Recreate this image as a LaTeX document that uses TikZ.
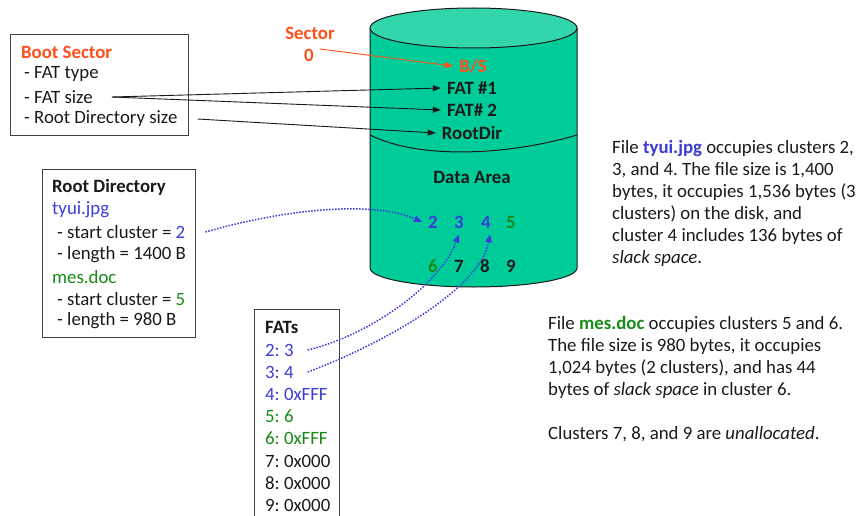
\documentclass[tikz,border=0pt]{standalone}
\usepackage{fontspec}
\setmainfont{Carlito}
\usepackage{xcolor}
\usetikzlibrary{arrows.meta,positioning}
\definecolor{ink}      {HTML}{1A1A1A}
\definecolor{boxgray}  {HTML}{404040}
\definecolor{sectred}  {HTML}{FF4F1A}
\definecolor{tyuiblue} {HTML}{3C3CD8}
\definecolor{mesgreen} {HTML}{178A17}
\definecolor{diskbody} {HTML}{00CC99}
\definecolor{disktop}  {HTML}{33D6AA}
\newcommand{\slidefont}{\fontsize{18.8}{22}\selectfont\frenchspacing}
\newcommand{\tyui}[1]{\textcolor{tyuiblue}{#1}}
\newcommand{\mes}[1]{\textcolor{mesgreen}{#1}}
\tikzset{
  txt/.style={anchor=west,inner sep=6pt,text=ink},
  boldtxt/.style={txt,font=\slidefont\bfseries},
  disklbl/.style={font=\slidefont\bfseries,text=ink,inner sep=6pt},
  infobox/.style={draw=boxgray,line width=1pt,anchor=north west,inner sep=0pt},
  note/.style={anchor=north west,align=left,inner sep=0pt,text=ink},
  ptr/.style={-{Triangle[length=8pt,width=6pt]},line width=0.9pt,ink},
  chain/.style={-{Triangle[length=8pt,width=6.5pt]},tyuiblue,line width=1.5pt,
    dash pattern=on 1.5pt off 1.5pt},
}

\begin{document}
\begin{tikzpicture}[x=1pt,y=-1pt,font=\slidefont]
  \useasboundingbox (0,0) rectangle (856,516);
  \clip (0,0) rectangle (856,516);

  % the disk
  \fill[diskbody] (370,28) -- (370,268)
    arc[start angle=180,end angle=360,x radius=103.5pt,y radius=19pt] -- (577,28) -- cycle;
  \draw[ink,line width=1pt] (370,28) -- (370,268)
    arc[start angle=180,end angle=360,x radius=103.5pt,y radius=19pt] -- (577,28);
  \filldraw[fill=disktop,draw=ink,line width=1pt] (473.5,28) ellipse[x radius=103.5pt,y radius=20pt];
  \draw[ink,line width=1pt] (370,135) .. controls (420,160) and (510,155) .. (577,135);

  \node[disklbl,text=sectred] (bs) at (473,66) {B/S};
  \node[disklbl] (fat1) at (472,88) {FAT \#1};
  \node[disklbl] (fat2) at (472,110) {FAT\# 2};
  \node[disklbl] (rootdir) at (472,133) {RootDir};
  \node[disklbl] (data) at (472,177) {Data Area};
  \foreach \n/\px/\py/\col in {2/433/222/tyuiblue,3/459/222/tyuiblue,4/486/222/tyuiblue,
      5/511/222/mesgreen,6/433/266/mesgreen,7/459/266/ink,8/485/266/ink,9/511/266/ink} {
    \node[disklbl,text=\col] (c\n) at (\px,\py) {\n};
  }

  \node[disklbl,text=sectred] (secttxt) at (310,33) {Sector};
  \node[disklbl,text=sectred] (sectnum) at (309,55) {0};

  % boot sector
  \node[infobox,minimum width=178pt,minimum height=101pt] (bootbox) at (10,34) {};
  \node[boldtxt,text=sectred] (boottitle) at (15,52) {Boot Sector};
  \node[txt] (fattype) at (18,74) {- FAT type};
  \node[txt] (fatsize) at (18,97) {- FAT size};
  \node[txt] (rootsize) at (18,119) {- Root Directory size};

  % root directory
  \node[infobox,minimum width=153pt,minimum height=168pt] (rootbox) at (42,169) {};
  \node[boldtxt] (roottitle) at (46,187) {Root Directory};
  \node[txt,text=tyuiblue] (tyuiname) at (46,210) {tyui.jpg};
  \node[txt] (tyuistart) at (51,232) {- start cluster = \tyui{2}};
  \node[txt] (tyuilen) at (51,255) {- length = 1400 B};
  \node[txt,text=mesgreen] (mesname) at (46,277) {mes.doc};
  \node[txt] (messtart) at (51,299) {- start cluster = \mes{5}};
  \node[txt] (meslen) at (51,321) {- length = 980 B};

  % fat entries
  \node[infobox,minimum width=85pt,minimum height=240pt] (fatbox) at (254,309) {};
  \node[boldtxt] (fattitle) at (259,327) {FATs};
  \foreach \k/\v/\py/\col in {2/3/350/tyuiblue,3/4/372/tyuiblue,4/0xFFF/394/tyuiblue,
      5/6/416/mesgreen,6/0xFFF/438/mesgreen,7/0x000/461/ink,8/0x000/483/ink,9/0x000/505/ink} {
    \node[txt,text=\col] (entry\k) at (259,\py) {\k: \v};
  }

  \draw[ptr,sectred] ([yshift=6pt]sectnum.east) -- (bs.west);
  \draw[ptr] ([xshift=13pt]fatsize.east) -- (fat1.west);
  \draw[ptr] ([xshift=13pt]fatsize.east) -- (fat2.west);
  \draw[ptr] ([xshift=14pt]rootsize.east) -- (rootdir.west);

  \draw[chain] ([xshift=14pt]tyuistart.east) .. controls (300,205) and (380,203) .. (c2.west);
  \draw[chain] ([xshift=8pt]entry2.east) .. controls (370,335) and (440,285) .. (c3.south);
  \draw[chain] ([xshift=8pt]entry3.east) .. controls (380,345) and (480,290) .. ([xshift=4pt]c4.south);

  \node[note] (tyuinote) at (612,140) {File \textbf{\tyui{tyui.jpg}} occupies clusters 2,\\
    3, and 4. The file size is 1,400\\
    bytes, it occupies 1,536 bytes (3\\
    clusters) on the disk, and\\
    cluster 4 includes 136 bytes of\\
    \textit{slack space}.};
  \node[note] (mesnote) at (548,316) {File \textbf{\mes{mes.doc}} occupies clusters 5 and 6.\\
    The file size is 980 bytes, it occupies\\
    1,024 bytes (2 clusters), and has 44\\
    bytes of \textit{slack space} in cluster 6.\\[22pt]
    Clusters 7, 8, and 9 are \textit{unallocated}.};
\end{tikzpicture}
\end{document}
